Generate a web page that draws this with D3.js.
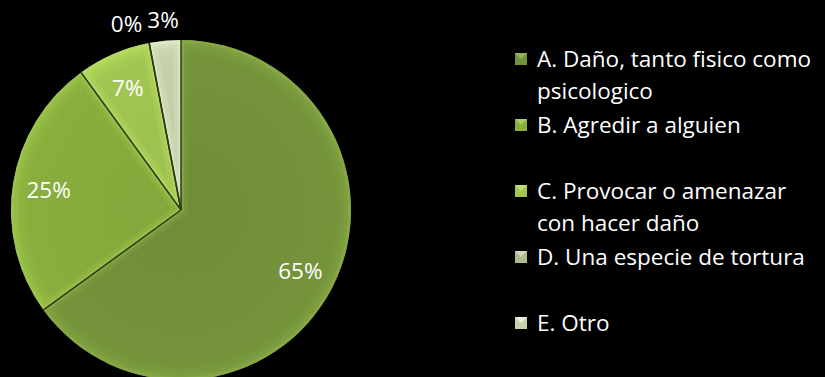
<!DOCTYPE html>
<html>
<head>
<meta charset="utf-8">
<script src="https://cdn.jsdelivr.net/npm/d3@7"></script>
<style>
  html, body { margin: 0; padding: 0; background: #000; }
  svg { display: block; }
  text { font-family: "Open Sans", Lato, sans-serif; fill: #fff; }
</style>
</head>
<body>
<svg id="chart" width="825" height="377"></svg>
<script>
// Answer categories and their shares (percent)
const categories = [
  "A. Daño, tanto fisico como psicologico",
  "B. Agredir a alguien",
  "C. Provocar o amenazar con hacer daño",
  "D. Una especie de tortura",
  "E. Otro"
];
const legendLines = [
  ["A. Daño, tanto fisico como", "psicologico"],
  ["B. Agredir a alguien"],
  ["C. Provocar o amenazar", "con hacer daño"],
  ["D. Una especie de tortura"],
  ["E. Otro"]
];
const values = [65, 25, 7, 0, 3];
const valueLabels = ["65%", "25%", "7%", "0%", "3%"];
const sliceColors = ["#74933a", "#89ae3e", "#a2c652", "#aeb98e", "#c6d1ad"];
const edgeColors  = ["#9bb95a", "#acce66", "#c2df7c", "#d3dcbd", "#eef3e2"];

const svg = d3.select("#chart");
const W = 825, H = 377;
svg.append("rect").attr("width", W).attr("height", H).attr("fill", "#000");

const cx = 181, cy = 210, R = 170;
const fontSize = 22.5;

const pie = d3.pie().sort(null).value(d => d.v);
const data = pie(values.map((v, i) => ({ v, i })));
const arc = d3.arc().innerRadius(0).outerRadius(R);

const defs = svg.append("defs");
data.forEach((d, i) => {
  defs.append("clipPath").attr("id", "clip" + i)
    .append("path").attr("d", arc(d));
  const g = defs.append("radialGradient").attr("id", "grad" + i)
    .attr("gradientUnits", "userSpaceOnUse")
    .attr("cx", 0).attr("cy", 0).attr("r", R);
  g.append("stop").attr("offset", "0").attr("stop-color", d3.color(sliceColors[i]).darker(0.12));
  g.append("stop").attr("offset", "0.9").attr("stop-color", sliceColors[i]);
  g.append("stop").attr("offset", "1").attr("stop-color", d3.color(sliceColors[i]).brighter(0.2));
});

const pieG = svg.append("g").attr("transform", `translate(${cx},${cy})`);

const slices = pieG.selectAll("g.slice").data(data.filter(d => d.value > 0))
  .join("g").attr("class", "slice");

slices.append("path")
  .attr("d", arc)
  .attr("fill", d => `url(#grad${d.data.i})`);

// bevelled rim: a light stroke kept inside each slice
slices.append("path")
  .attr("d", arc)
  .attr("fill", "none")
  .attr("stroke", d => edgeColors[d.data.i])
  .attr("stroke-opacity", 0.45)
  .attr("stroke-width", 6)
  .attr("clip-path", d => `url(#clip${d.data.i})`);

slices.append("path")
  .attr("d", arc)
  .attr("fill", "none")
  .attr("stroke", d => d3.color(sliceColors[d.data.i]).brighter(0.3))
  .attr("stroke-opacity", 0.35)
  .attr("stroke-width", 14)
  .attr("clip-path", d => `url(#clip${d.data.i})`);

// dark separators between slices
pieG.selectAll("line.sep").data(data)
  .join("line").attr("class", "sep")
  .attr("x1", 0).attr("y1", 0)
  .attr("x2", d => R * Math.sin(d.startAngle))
  .attr("y2", d => -R * Math.cos(d.startAngle))
  .attr("stroke", "#2f3a17")
  .attr("stroke-width", 1.5);

// value labels
const inner = d3.arc().innerRadius(134).outerRadius(134);
const outer = d3.arc().innerRadius(191).outerRadius(191);
const labels = pieG.selectAll("text.val").data(data)
  .join("text").attr("class", "val")
  .attr("text-anchor", "middle")
  .attr("dominant-baseline", "central")
  .attr("font-size", fontSize)
  .text(d => valueLabels[d.data.i])
  .each(function(d) {
    const small = d.value < 5;
    const p = (small ? outer : inner).centroid(d);
    d.lx = p[0]; d.ly = p[1]; d.small = small;
    d.w = this.getComputedTextLength();
  });

// push overlapping outside labels apart (right to left)
const outs = data.filter(d => d.small).sort((a, b) => b.lx - a.lx);
for (let k = 1; k < outs.length; k++) {
  const prev = outs[k - 1], cur = outs[k];
  const maxX = prev.lx - prev.w / 2 - 5 - cur.w / 2;
  if (cur.lx > maxX) cur.lx = maxX;
  if (Math.abs(cur.ly - prev.ly) < 22) cur.ly = prev.ly + 4;
}
labels.attr("x", d => d.lx).attr("y", d => d.ly);

// legend
const legend = svg.append("g").attr("transform", "translate(515,58)");
const rowH = 66, lineH = 32;
const items = legend.selectAll("g.item").data(categories)
  .join("g").attr("class", "item")
  .attr("transform", (d, i) => `translate(0,${i * rowH})`);

items.append("rect")
  .attr("x", 0).attr("y", -5).attr("width", 12).attr("height", 12)
  .attr("fill", (d, i) => sliceColors[i]);
items.append("path")
  .attr("d", "M0,-5 L12,-5 L6,1 Z")
  .attr("fill", (d, i) => edgeColors[i])
  .attr("opacity", 0.9);

items.append("text")
  .attr("x", 22)
  .attr("font-size", fontSize)
  .selectAll("tspan")
  .data((d, i) => legendLines[i])
  .join("tspan")
  .attr("x", 22)
  .attr("y", (t, j) => j * lineH)
  .attr("dominant-baseline", "central")
  .text(t => t);
</script>
</body>
</html>
